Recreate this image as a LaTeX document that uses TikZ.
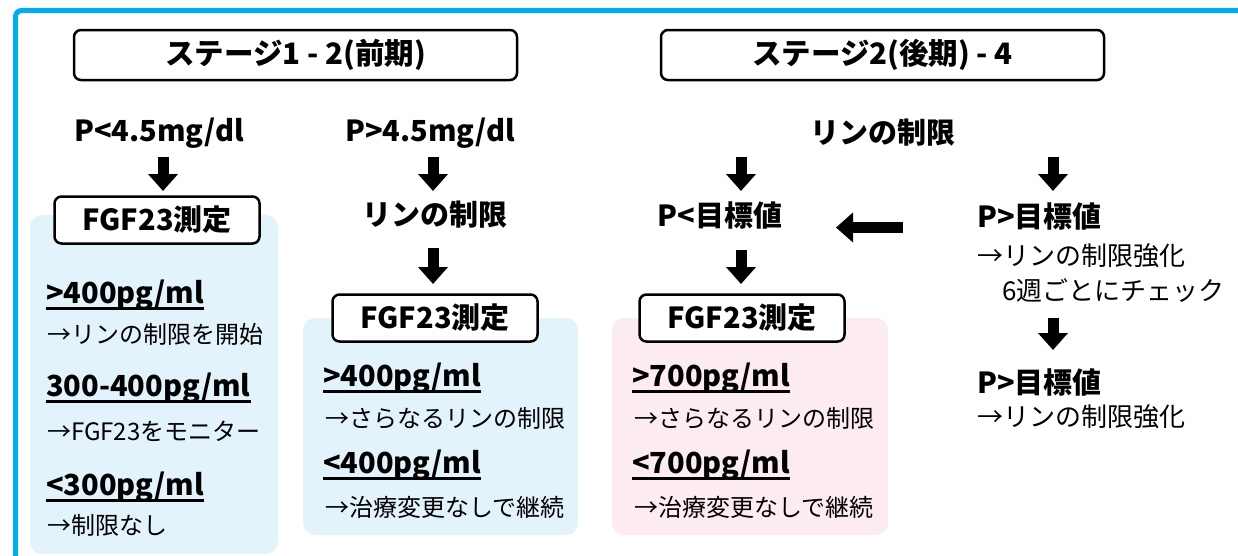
\documentclass[tikz,border=0pt]{standalone}
\usepackage{fontspec}
\newfontfamily\jp{Noto Sans CJK JP}
\usetikzlibrary{arrows.meta,calc}
\definecolor{frameblue}{HTML}{00AEEF}
\definecolor{lblue}{HTML}{E3F3FB}
\definecolor{lpink}{HTML}{FDEBF4}
\tikzset{
 hd/.style={font=\jp\bfseries\fontsize{29}{33}\selectfont, inner sep=0pt},
 tx/.style={font=\jp\fontsize{24}{28}\selectfont, inner sep=0pt, anchor=west},
 txl/.style={font=\jp\fontsize{26}{30}\selectfont, inner sep=0pt, anchor=west},
 ul/.style={hd, anchor=west},
 titlebox/.style={draw, line width=2.5pt, rounded corners=7pt, minimum width=443pt, minimum height=50pt, hd, font=\jp\bfseries\fontsize{29.5}{33}\selectfont},
 fgfbox/.style={draw, line width=2.5pt, rounded corners=7pt, fill=white, minimum width=205pt, minimum height=47pt, hd},
 panel/.style={rounded corners=12pt},
 bigarrow/.style={line width=11pt, -{Triangle[width=29pt,length=17pt]}},
}
\newcommand\ulitem[3]{\node[ul] (#1) at (#2) {#3};
 \draw[line width=2.4pt] ($(#1.base west)+(0,5)$) -- ($(#1.base east)+(0,5)$);}
\begin{document}
\begin{tikzpicture}[x=1pt,y=-1pt]
\useasboundingbox (0,0) rectangle (1238,555);
\clip (0,0) rectangle (1238,555);
\fill[white] (0,0) rectangle (1238,555);
% frame
\draw[frameblue, line width=5pt, rounded corners=6pt] (15.5,10.5) rectangle (1400,700);
% panels
\fill[lblue, panel] (30,215) rectangle (278,554);
\fill[lblue, panel] (303,318) rectangle (578,535);
\fill[lpink, panel] (612,318) rectangle (888,535);
% titles
\node[titlebox] (t1) at (295.5,55) {ステージ1 - 2(前期)};
\node[titlebox] (t2) at (882.5,55) {ステージ2(後期) - 4};
% column 1
\node[hd] (p1) at (159,133) {P<4.5mg/dl};
\node[fgfbox] (f1) at (157,220) {FGF23測定};
\coordinate (a1s) at (163,157); \coordinate (a1e) at (163,191);
\draw[bigarrow] (a1s) -- (a1e);
\ulitem{c1a}{46,295}{>400pg/ml}
\node[tx] (c1b) at (47,334) {→リンの制限を開始};
\ulitem{c1c}{46,388}{300-400pg/ml}
\node[tx] (c1d) at (47,431) {→FGF23をモニター};
\ulitem{c1e}{46,487}{<300pg/ml}
\node[tx] (c1f) at (47,525) {→制限なし};
% column 2
\node[hd] (p2) at (430,133) {P>4.5mg/dl};
\node[hd] (r2) at (435,215) {リンの制限};
\node[fgfbox] (f2) at (435,318) {FGF23測定};
\coordinate (a2s) at (433,157); \coordinate (a2e) at (433,191);
\draw[bigarrow] (a2s) -- (a2e);
\coordinate (a3s) at (433,248); \coordinate (a3e) at (433,284);
\draw[bigarrow] (a3s) -- (a3e);
\ulitem{c2a}{323,378}{>400pg/ml}
\node[tx] (c2b) at (325,418) {→さらなるリンの制限};
\ulitem{c2c}{323,465}{<400pg/ml}
\node[tx] (c2d) at (325,507) {→治療変更なしで継続};
% column 3
\node[hd] (r3) at (883,133) {リンの制限};
\node[hd] (q3) at (720,215) {P<目標値};
\node[fgfbox] (f3) at (742,318) {FGF23測定};
\coordinate (a4s) at (741,157); \coordinate (a4e) at (741,191);
\draw[bigarrow] (a4s) -- (a4e);
\coordinate (a5s) at (741,250); \coordinate (a5e) at (741,284);
\draw[bigarrow] (a5s) -- (a5e);
\ulitem{c3a}{632,378}{>700pg/ml}
\node[tx] (c3b) at (634,418) {→さらなるリンの制限};
\ulitem{c3c}{632,465}{<700pg/ml}
\node[tx] (c3d) at (634,507) {→治療変更なしで継続};
% column 4
\coordinate (a6s) at (1053,157); \coordinate (a6e) at (1053,191);
\draw[bigarrow] (a6s) -- (a6e);
\node[hd, anchor=west] (q4) at (977,216) {P>目標値};
\node[txl] (c4a) at (977,256) {→リンの制限強化};
\node[txl] (c4b) at (1002,291) {6週ごとにチェック};
\coordinate (a7s) at (1053,318); \coordinate (a7e) at (1053,350);
\draw[bigarrow] (a7s) -- (a7e);
\node[hd, anchor=west] (q5) at (977,382) {P>目標値};
\node[txl] (c4c) at (977,417) {→リンの制限強化};
% left arrow
\coordinate (l1) at (903,227.5); \coordinate (l2) at (836,227.5);
\draw[bigarrow] (l1) -- (l2);
\end{tikzpicture}
\end{document}
